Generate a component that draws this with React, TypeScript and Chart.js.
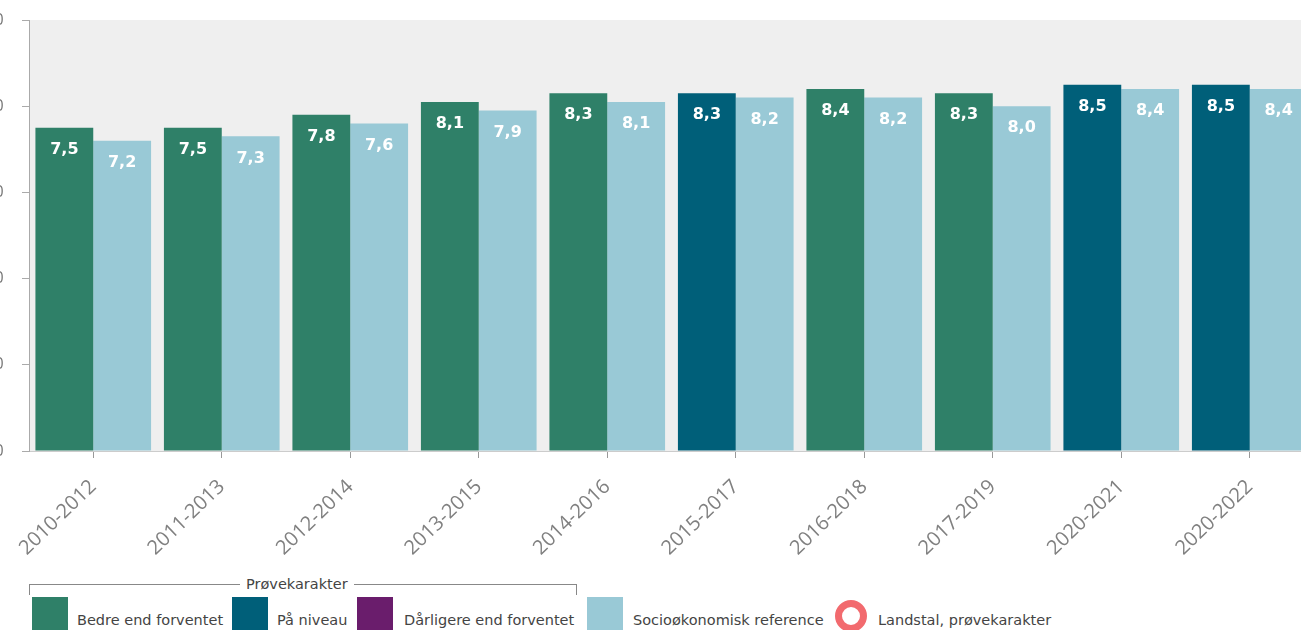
import React, { useEffect, useRef } from "react";
import { Chart, registerables } from "chart.js";

Chart.register(...registerables);

const categories = [
  "2010-2012", "2011-2013", "2012-2014", "2013-2015", "2014-2016",
  "2015-2017", "2016-2018", "2017-2019", "2020-2021", "2020-2022",
];
const schoolValues = [7.5, 7.5, 7.8, 8.1, 8.3, 8.3, 8.4, 8.3, 8.5, 8.5];
// "bedre" = better than expected, "niveau" = at level
const schoolStatus = ["bedre", "bedre", "bedre", "bedre", "bedre", "niveau", "bedre", "bedre", "niveau", "niveau"];
const referenceValues = [7.2, 7.3, 7.6, 7.9, 8.1, 8.2, 8.2, 8.0, 8.4, 8.4];
const yTicks = [0, 2, 4, 6, 8, 10];

const GREEN = "#2f8068";
const DARKBLUE = "#005f79";
const PURPLE = "#6a1d6c";
const LIGHTBLUE = "#99c9d6";
const RING = "#f26a6e";
const PLOT_BG = "#efefef";

const CANVAS_W = 1345;
const CANVAS_H = 560;
const Y_AXIS_W = 60;

const plotBg = {
  id: "plotBg",
  beforeDraw(chart: any) {
    const { ctx, chartArea } = chart;
    ctx.save();
    ctx.fillStyle = PLOT_BG;
    ctx.fillRect(chartArea.left, chartArea.top, chartArea.right - chartArea.left, chartArea.bottom - chartArea.top);
    ctx.restore();
  },
};

const valueLabels = {
  id: "valueLabels",
  afterDatasetsDraw(chart: any) {
    const { ctx } = chart;
    ctx.save();
    ctx.font = "bold 16px 'DejaVu Sans'";
    ctx.fillStyle = "#ffffff";
    ctx.textAlign = "center";
    ctx.textBaseline = "middle";
    chart.data.datasets.forEach((ds: any, di: number) => {
      const meta = chart.getDatasetMeta(di);
      meta.data.forEach((bar: any, i: number) => {
        const v = ds.data[i];
        ctx.fillText(v.toFixed(1).replace(".", ","), bar.x, bar.y + 22);
      });
    });
    ctx.restore();
  },
};

function App() {
  const ref = useRef<HTMLCanvasElement>(null);
  useEffect(() => {
    if (!ref.current) return;
    const chart = new Chart(ref.current, {
      type: "bar",
      data: {
        labels: categories,
        datasets: [
          {
            label: "Prøvekarakter",
            data: schoolValues,
            backgroundColor: schoolStatus.map((s) => (s === "niveau" ? DARKBLUE : GREEN)),
            barPercentage: 1,
            categoryPercentage: 0.9,
          },
          {
            label: "Socioøkonomisk reference",
            data: referenceValues,
            backgroundColor: LIGHTBLUE,
            barPercentage: 1,
            categoryPercentage: 0.9,
          },
        ],
      },
      options: {
        animation: false,
        responsive: false,
        devicePixelRatio: 1,
        layout: { padding: { top: 20, left: 0, right: 0, bottom: 0 } },
        plugins: { legend: { display: false }, tooltip: { enabled: false } },
        scales: {
          x: {
            afterFit: (s: any) => { s.height = CANVAS_H - 451; },
            border: { display: true, color: "#cccccc" },
            grid: { offset: false, drawOnChartArea: false, tickLength: 7, color: "#999999" },
            ticks: {
              color: "#808080",
              font: { family: "'Open Sans'", size: 20 },
              minRotation: 44,
              maxRotation: 44,
              padding: 17,
              autoSkip: false,
            },
          },
          y: {
            min: 0,
            max: 10,
            afterFit: (s: any) => { s.width = Y_AXIS_W; },
            afterBuildTicks: (s: any) => { s.ticks = yTicks.map((v) => ({ value: v })); },
            border: { display: true, color: "#aaaaaa" },
            grid: { drawOnChartArea: false, tickLength: 7, color: "#aaaaaa" },
            ticks: {
              color: "#777777",
              font: { family: "'Open Sans'", size: 16 },
              padding: 6,
              callback: (v: any) => Number(v).toFixed(1).replace(".", ",") + "   ",
            },
          },
        },
      },
      plugins: [plotBg, valueLabels],
    });
    return () => chart.destroy();
  }, []);

  const font = "'DejaVu Sans', Verdana, sans-serif";
  const text = (left: number, s: string) => (
    <div style={{ position: "absolute", left, top: 610, fontFamily: font, fontSize: 14.5, color: "#444", whiteSpace: "nowrap", lineHeight: "20px" }}>{s}</div>
  );
  const square = (left: number, color: string) => (
    <div style={{ position: "absolute", left, top: 597, width: 36, height: 40, background: color }} />
  );

  return (
    <div style={{ position: "fixed", left: 0, top: 0, width: 1301, height: 630, overflow: "hidden", background: "#fff" }}>
      <canvas
        ref={ref}
        width={CANVAS_W}
        height={CANVAS_H}
        style={{ position: "absolute", left: -31, top: 0, width: CANVAS_W, height: CANVAS_H }}
      />
      {/* Legend bracket */}
      <div style={{ position: "absolute", left: 29, top: 584, width: 546, height: 10, borderTop: "1px solid #888", borderLeft: "1px solid #888", borderRight: "1px solid #888" }} />
      <div style={{ position: "absolute", left: 240, top: 574, padding: "0 6px", background: "#fff", fontFamily: font, fontSize: 14.5, color: "#444", lineHeight: "20px", whiteSpace: "nowrap" }}>Prøvekarakter</div>
      {square(32, GREEN)}
      {text(77, "Bedre end forventet")}
      {square(232, DARKBLUE)}
      {text(277, "På niveau")}
      {square(357, PURPLE)}
      {text(404, "Dårligere end forventet")}
      {square(587, LIGHTBLUE)}
      {text(633, "Socioøkonomisk reference")}
      <div style={{ position: "absolute", left: 835, top: 600, width: 18, height: 18, borderRadius: "50%", border: `7px solid ${RING}` }} />
      {text(878, "Landstal, prøvekarakter")}
    </div>
  );
}

export default App;
